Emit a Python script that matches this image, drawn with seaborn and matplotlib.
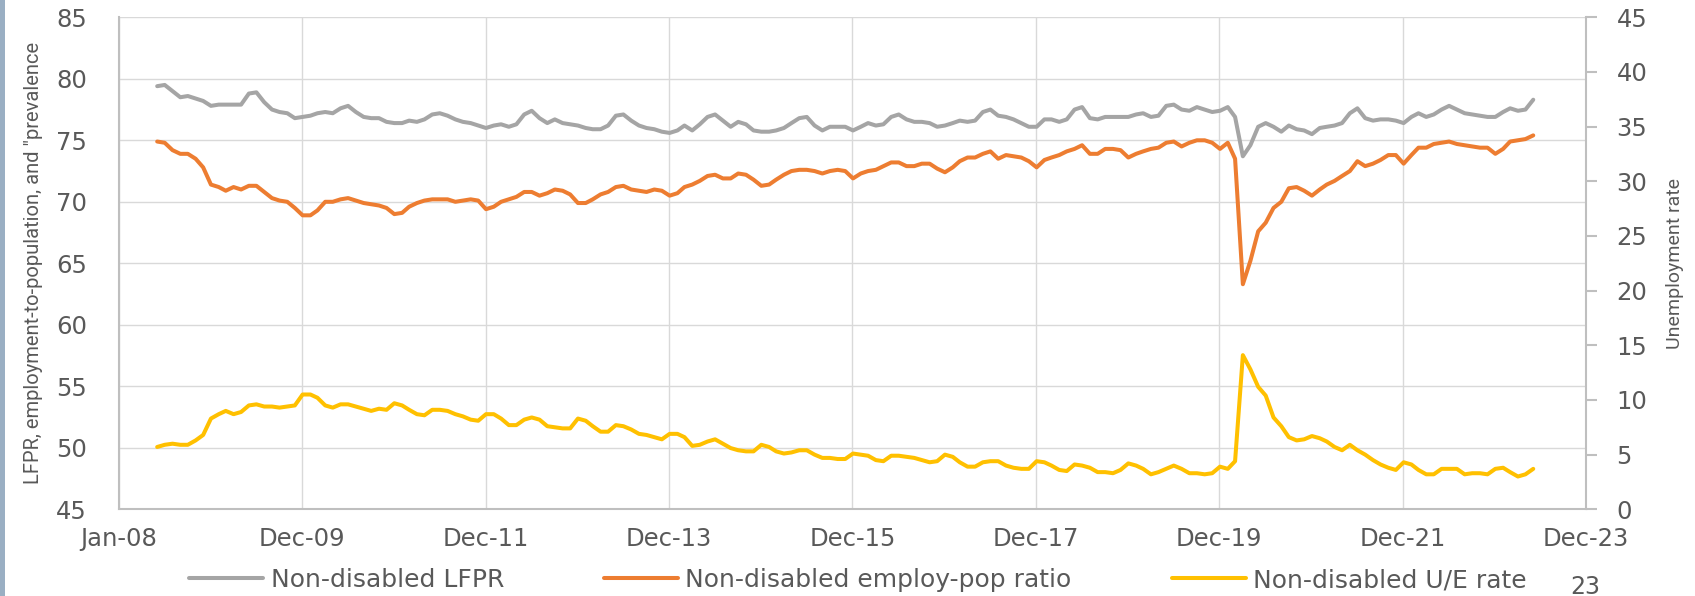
import datetime as dt
import numpy as np
import pandas as pd
import matplotlib
matplotlib.use("Agg")
import matplotlib.pyplot as plt
import matplotlib.dates as mdates
from matplotlib.patches import Rectangle
import seaborn as sns

# ---------------- data (monthly, Jun-2008 .. Jun-2023) ----------------
start_month = "2008-06-01"
n_months = 181

lfpr = [79.4, 79.5, 79.0, 78.5, 78.6, 78.4, 78.2, 77.8, 77.9, 77.9,
        77.9, 77.9, 78.8, 78.9, 78.1, 77.5, 77.3, 77.2, 76.8, 76.9,
        77.0, 77.2, 77.3, 77.2, 77.6, 77.8, 77.3, 76.9, 76.8, 76.8,
        76.5, 76.4, 76.4, 76.6, 76.5, 76.7, 77.1, 77.2, 77.0, 76.7,
        76.5, 76.4, 76.2, 76.0, 76.2, 76.3, 76.1, 76.3, 77.1, 77.4,
        76.8, 76.4, 76.7, 76.4, 76.3, 76.2, 76.0, 75.9, 75.9, 76.2,
        77.0, 77.1, 76.6, 76.2, 76.0, 75.9, 75.7, 75.6, 75.8, 76.2,
        75.8, 76.3, 76.9, 77.1, 76.6, 76.1, 76.5, 76.3, 75.8, 75.7,
        75.7, 75.8, 76.0, 76.4, 76.8, 76.9, 76.2, 75.8, 76.1, 76.1,
        76.1, 75.8, 76.1, 76.4, 76.2, 76.3, 76.9, 77.1, 76.7, 76.5,
        76.5, 76.4, 76.1, 76.2, 76.4, 76.6, 76.5, 76.6, 77.3, 77.5,
        77.0, 76.9, 76.7, 76.4, 76.1, 76.1, 76.7, 76.7, 76.5, 76.7,
        77.5, 77.7, 76.8, 76.7, 76.9, 76.9, 76.9, 76.9, 77.1, 77.2,
        76.9, 77.0, 77.8, 77.9, 77.5, 77.4, 77.7, 77.5, 77.3, 77.4,
        77.7, 76.9, 73.7, 74.6, 76.1, 76.4, 76.1, 75.7, 76.2, 75.9,
        75.8, 75.5, 76.0, 76.1, 76.2, 76.4, 77.2, 77.6, 76.8, 76.6,
        76.7, 76.7, 76.6, 76.4, 76.9, 77.2, 76.9, 77.1, 77.5, 77.8,
        77.5, 77.2, 77.1, 77.0, 76.9, 76.9, 77.3, 77.6, 77.4, 77.5,
        78.3]

epop = [74.9, 74.8, 74.2, 73.9, 73.9, 73.5, 72.8, 71.4, 71.2, 70.9,
        71.2, 71.0, 71.3, 71.3, 70.8, 70.3, 70.1, 70.0, 69.5, 68.9,
        68.9, 69.3, 70.0, 70.0, 70.2, 70.3, 70.1, 69.9, 69.8, 69.7,
        69.5, 69.0, 69.1, 69.6, 69.9, 70.1, 70.2, 70.2, 70.2, 70.0,
        70.1, 70.2, 70.1, 69.4, 69.6, 70.0, 70.2, 70.4, 70.8, 70.8,
        70.5, 70.7, 71.0, 70.9, 70.6, 69.9, 69.9, 70.2, 70.6, 70.8,
        71.2, 71.3, 71.0, 70.9, 70.8, 71.0, 70.9, 70.5, 70.7, 71.2,
        71.4, 71.7, 72.1, 72.2, 71.9, 71.9, 72.3, 72.2, 71.8, 71.3,
        71.4, 71.8, 72.2, 72.5, 72.6, 72.6, 72.5, 72.3, 72.5, 72.6,
        72.5, 71.9, 72.3, 72.5, 72.6, 72.9, 73.2, 73.2, 72.9, 72.9,
        73.1, 73.1, 72.7, 72.4, 72.8, 73.3, 73.6, 73.6, 73.9, 74.1,
        73.5, 73.8, 73.7, 73.6, 73.3, 72.8, 73.4, 73.6, 73.8, 74.1,
        74.3, 74.6, 73.9, 73.9, 74.3, 74.3, 74.2, 73.6, 73.9, 74.1,
        74.3, 74.4, 74.8, 74.9, 74.5, 74.8, 75.0, 75.0, 74.8, 74.3,
        74.8, 73.5, 63.3, 65.2, 67.6, 68.3, 69.5, 70.0, 71.1, 71.2,
        70.9, 70.5, 71.0, 71.4, 71.7, 72.1, 72.5, 73.3, 72.9, 73.1,
        73.4, 73.8, 73.8, 73.1, 73.8, 74.4, 74.4, 74.7, 74.8, 74.9,
        74.7, 74.6, 74.5, 74.4, 74.4, 73.9, 74.3, 74.9, 75.0, 75.1,
        75.4]

ue_rate = [5.7, 5.9, 6.0, 5.9, 5.9, 6.3, 6.8, 8.3, 8.7, 9.0,
           8.7, 8.9, 9.5, 9.6, 9.4, 9.4, 9.3, 9.4, 9.5, 10.5,
           10.5, 10.2, 9.5, 9.3, 9.6, 9.6, 9.4, 9.2, 9.0, 9.2,
           9.1, 9.7, 9.5, 9.1, 8.7, 8.6, 9.1, 9.1, 9.0, 8.7,
           8.5, 8.2, 8.1, 8.7, 8.7, 8.3, 7.7, 7.7, 8.2, 8.4,
           8.2, 7.6, 7.5, 7.4, 7.4, 8.3, 8.1, 7.6, 7.1, 7.1,
           7.7, 7.6, 7.3, 6.9, 6.8, 6.6, 6.4, 6.9, 6.9, 6.6,
           5.8, 5.9, 6.2, 6.4, 6.0, 5.6, 5.4, 5.3, 5.3, 5.9,
           5.7, 5.3, 5.1, 5.2, 5.4, 5.4, 5.0, 4.7, 4.7, 4.6,
           4.6, 5.1, 5.0, 4.9, 4.5, 4.4, 4.9, 4.9, 4.8, 4.7,
           4.5, 4.3, 4.4, 5.0, 4.8, 4.3, 3.9, 3.9, 4.3, 4.4,
           4.4, 4.0, 3.8, 3.7, 3.7, 4.4, 4.3, 4.0, 3.6, 3.5,
           4.1, 4.0, 3.8, 3.4, 3.4, 3.3, 3.6, 4.2, 4.0, 3.7,
           3.2, 3.4, 3.7, 4.0, 3.7, 3.3, 3.3, 3.2, 3.3, 3.9,
           3.7, 4.4, 14.1, 12.8, 11.2, 10.4, 8.4, 7.6, 6.6, 6.3,
           6.4, 6.7, 6.5, 6.2, 5.7, 5.4, 5.9, 5.4, 5.0, 4.5,
           4.1, 3.8, 3.6, 4.3, 4.1, 3.6, 3.2, 3.2, 3.7, 3.7,
           3.7, 3.2, 3.3, 3.3, 3.2, 3.7, 3.8, 3.4, 3.0, 3.2,
           3.7]

series_labels = ["Non-disabled LFPR", "Non-disabled employ-pop ratio",
                 "Non-disabled U/E rate"]
left_ticks = [45, 50, 55, 60, 65, 70, 75, 80, 85]
right_ticks = [0, 5, 10, 15, 20, 25, 30, 35, 40, 45]
left_label = "LFPR, employment-to-population, and \"prevalence"
right_label = "Unemployment rate"

# ---------------- style ----------------
C_GRAY, C_ORANGE, C_YELLOW = "#A5A5A5", "#ED7D31", "#FFC000"
TXT = "#595959"
GRID = "#D9D9D9"
AXC = "#BFBFBF"
LW = 2.9
TICK_FS = 17.5
LEG_FS = 18

sns.set_style("white")
plt.rcParams["font.family"] = ["DejaVu Sans"]

W, H = 1695, 596
fig = plt.figure(figsize=(W / 100, H / 100), dpi=100)
L, R, T, B = 119, 1586, 17.3, 509.3
ax = fig.add_axes([L / W, 1 - B / H, (R - L) / W, (B - T) / H])

df = pd.DataFrame({
    "date": pd.date_range(start_month, periods=n_months, freq="MS"),
    "lfpr": lfpr, "epop": epop, "ue": ue_rate,
})

sns.lineplot(data=df, x="date", y="lfpr", ax=ax, color=C_GRAY, lw=LW,
             label=series_labels[0], legend=False)
sns.lineplot(data=df, x="date", y="epop", ax=ax, color=C_ORANGE, lw=LW,
             label=series_labels[1], legend=False)

ax2 = ax.twinx()
sns.lineplot(data=df, x="date", y="ue", ax=ax2, color=C_YELLOW, lw=LW,
             label=series_labels[2], legend=False)

# x axis (Excel-style date axis, 730-day major unit)
x0 = dt.datetime(2008, 1, 1)
xticks = [x0 + dt.timedelta(days=730 * k) for k in range(9)]
ax.set_xlim(xticks[0], xticks[-1])
ax.set_xticks(xticks)
ax.xaxis.set_major_formatter(mdates.DateFormatter("%b-%y"))

ax.set_ylim(45, 85)
ax.set_yticks(left_ticks)
ax2.set_ylim(0, 45)
ax2.set_yticks(right_ticks)

ax.grid(True, color=GRID, lw=1.0)
ax2.grid(False)
ax.set_axisbelow(True)

for a in (ax, ax2):
    for s in a.spines.values():
        s.set_visible(False)
ax.spines["left"].set_visible(True)
ax.spines["bottom"].set_visible(True)
ax2.spines["right"].set_visible(True)
for s in (ax.spines["left"], ax.spines["bottom"], ax2.spines["right"]):
    s.set_color(AXC)
    s.set_linewidth(1.5)

ax.tick_params(axis="y", length=0, pad=23, labelsize=TICK_FS, labelcolor=TXT)
ax.tick_params(axis="x", length=0, pad=13, labelsize=TICK_FS, labelcolor=TXT)
ax2.tick_params(axis="y", length=8, width=1.5, color=AXC, direction="out",
                pad=14, labelsize=TICK_FS, labelcolor=TXT)

ax.set_xlabel("")
ax.set_ylabel(left_label, fontfamily="Roboto", fontsize=14.5, color=TXT)
ax.yaxis.set_label_coords((43 - L) / (R - L), 0.5)
ax2.set_ylabel(right_label, fontfamily="Roboto", fontsize=14, color=TXT)
ax2.yaxis.set_label_coords((1666 - L) / (R - L), 0.5)

handles = [h for h in ax.get_lines() if h.get_label() in series_labels] + \
          [h for h in ax2.get_lines() if h.get_label() in series_labels]
fig.legend(handles, series_labels, loc="center",
           bbox_to_anchor=(858 / W, 1 - 580 / H), ncol=3, frameon=False,
           fontsize=LEG_FS, labelcolor=TXT, handlelength=2.96,
           handletextpad=0.3, columnspacing=4.0)

# slide decorations
fig.patches.append(Rectangle((0, 0), 5 / W, 1, transform=fig.transFigure,
                             facecolor="#9AAFC3", edgecolor="none"))
fig.text(1585 / W, 1 - 575 / H, "23", ha="center", va="top",
         fontsize=17, color=TXT)

fig.savefig("out.png", dpi=100)
